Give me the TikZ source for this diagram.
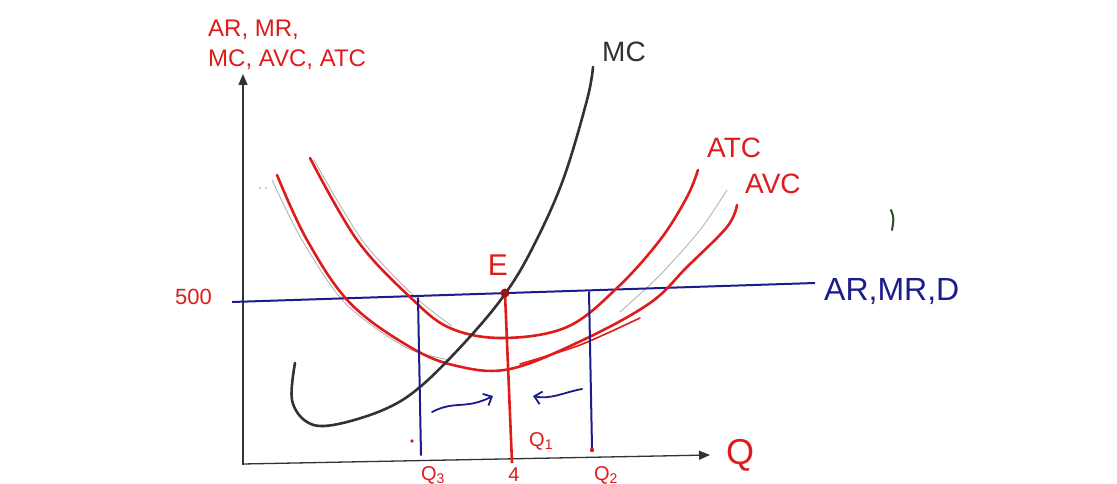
\documentclass[tikz,border=0pt]{standalone}
\usepackage{fontspec}
\setmainfont{Liberation Sans}
\usetikzlibrary{arrows.meta}
\definecolor{pen}{RGB}{222,28,28}
\definecolor{navy}{RGB}{28,28,140}
\definecolor{mcgray}{RGB}{50,50,50}
\definecolor{faint}{RGB}{175,175,175}
\definecolor{stray}{RGB}{40,80,40}
\begin{document}
\begin{tikzpicture}[x=1pt,y=-1pt,
  axisline/.style={draw=mcgray,line width=1.3pt,-{Triangle[length=11pt,width=9pt]}},
  redcurve/.style={draw=pen,line width=2.6pt,line cap=round,line join=round},
  faintcurve/.style={draw=faint,line width=0.8pt,line cap=round},
  mccurve/.style={draw=mcgray,line width=2.6pt,line cap=round},
  blueline/.style={draw=navy,line width=2pt,line cap=round},
  bluearrow/.style={draw=navy,line width=1.8pt,line cap=round,-{Straight Barb[length=7pt,width=13pt]}},
  redlbl/.style={text=pen,inner sep=0pt,font=\fontsize{24}{26}\selectfont},
  smalllbl/.style={text=pen,inner sep=0pt,font=\fontsize{20}{22}\selectfont},
  bluelbl/.style={text=navy,inner sep=0pt,font=\fontsize{32}{34}\selectfont},
  graylbl/.style={text=mcgray,inner sep=0pt,font=\fontsize{28}{30}\selectfont}]
\useasboundingbox (0,0) rectangle (1117,484);
\fill[white] (0,0) rectangle (1117,484);
\clip (0,0) rectangle (1117,484);

% axes
\coordinate (O) at (243,465);
\coordinate (Ytop) at (243,74);
\coordinate (Xstart) at (243,464);
\coordinate (Xend) at (710,455);
\draw[axisline] (O) -- (Ytop);
\draw[axisline] (Xstart) -- (Xend);

% faint pencil curves
\draw[faintcurve] plot[smooth] coordinates {(272,180) (302,240) (345,303) (405,347) (450,360)};
\draw[faintcurve] plot[smooth] coordinates {(314,160) (362,240) (414,296) (452,326)};
\draw[faintcurve] plot[smooth] coordinates {(620,312) (660,275) (700,230) (727,190)};
\fill[faint] (260,188) circle (1pt) (266,188) circle (1pt);

% AR = MR = D line
\coordinate (Dleft) at (232,302);
\coordinate (Dright) at (815,283);
\draw[navy,line width=2pt] (Dleft) -- (Dright);

% ATC
\draw[redcurve] plot[smooth,tension=0.6] coordinates {(310,158) (357,240) (410,297) (450,328) (503,338) (567,327) (617,288) (660,240) (687,197) (698,170)};
% AVC
\draw[redcurve] plot[smooth,tension=0.6] coordinates {(277,175) (307,240) (350,303) (410,347) (457,366) (510,369) (583,340) (650,303) (687,267) (727,227) (737,205)};
\draw[pen,line width=1.6pt,line cap=round] plot[smooth] coordinates {(520,364) (580,345) (640,318)};

% MC
\draw[mccurve] plot[smooth,tension=0.6] coordinates {(295,363) (292,400) (307,422) (333,425) (383,410) (420,387) (467,340) (505,294) (533,247) (563,180) (587,100) (593,67)};

% equilibrium
\coordinate (E) at (505,293);
\coordinate (Q1foot) at (512,463);
\draw[pen,line width=2.6pt] (E) -- (Q1foot);
\fill[pen!70!black] (E) circle (4.5pt);

% vertical blue lines
\coordinate (Q3top) at (418,298);
\coordinate (Q3foot) at (421,455);
\coordinate (Q2top) at (589,292);
\coordinate (Q2foot) at (592,448);
\draw[blueline] (Q3top) -- (Q3foot);
\draw[blueline] (Q2top) -- (Q2foot);
\fill[pen] (412,441) circle (1.8pt);
\fill[pen] (592,450) circle (2.2pt);

% adjustment arrows
\coordinate (a1s) at (432,412);
\coordinate (a1e) at (493,396);
\coordinate (a2s) at (582,389);
\coordinate (a2e) at (533,396);
\draw[bluearrow] (a1s) .. controls (455,400) and (465,410) .. (a1e);
\draw[bluearrow] (a2s) .. controls (565,392) and (550,400) .. (a2e);

% labels
\node[redlbl,anchor=west] (ylab1) at (208,30) {AR, MR,};
\node[redlbl,anchor=west] (ylab2) at (208,60) {MC, AVC, ATC};
\node[graylbl,anchor=west] (mclab) at (602,52) {MC};
\node[redlbl,anchor=west,font=\fontsize{28}{30}\selectfont] (atclab) at (707,148) {ATC};
\node[redlbl,anchor=west,font=\fontsize{28}{30}\selectfont] (avclab) at (745,184) {AVC};
\node[bluelbl,anchor=west] (dlab) at (824,292) {AR,MR,D};
\node[redlbl,anchor=east,font=\fontsize{22}{24}\selectfont] (p500) at (212,297) {500};
\node[redlbl,font=\fontsize{30}{32}\selectfont] (elab) at (498,265) {E};
\node[redlbl,font=\fontsize{36}{38}\selectfont] (qlab) at (740,455) {Q};
\node[smalllbl,anchor=west] (q1lab) at (529,441) {Q\textsubscript{1}};
\node[smalllbl,anchor=north] (q3lab) at (433,466) {Q\textsubscript{3}};
\node[smalllbl,anchor=north] (q2lab) at (606,466) {Q\textsubscript{2}};
\node[smalllbl,anchor=north] (fourlab) at (514,468) {4};

% stray pen mark
\draw[stray,line width=2pt,line cap=round] (891,210) .. controls (894,218) .. (892,230);
\end{tikzpicture}
\end{document}
